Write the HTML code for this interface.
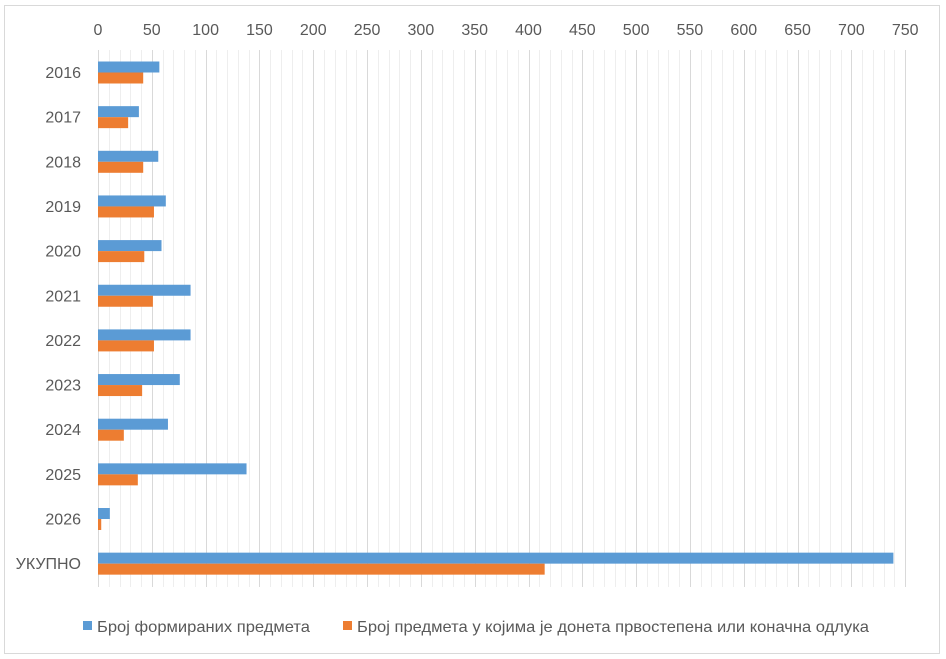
<!DOCTYPE html>
<html><head><meta charset="utf-8"><style>
html,body{margin:0;padding:0;background:#fff;}
svg{display:block;font-family:"Liberation Sans",sans-serif;}
</style></head><body>
<svg width="946" height="659" xmlns="http://www.w3.org/2000/svg">
<rect x="4.5" y="5.5" width="935" height="648" fill="#fff" stroke="#d9d9d9"/>
<g id="grid"></g>
<g id="bars"></g>
<g id="labels" font-size="16" fill="#595959"></g>
<rect x="83" y="621" width="9" height="9" fill="#5b9bd5"/>
<text x="97" y="632" font-size="16" fill="#595959" textLength="213" lengthAdjust="spacingAndGlyphs">Број формираних предмета</text>
<rect x="343" y="621" width="9" height="9" fill="#ed7d31"/>
<text x="357" y="632" font-size="16" fill="#595959" textLength="512" lengthAdjust="spacingAndGlyphs">Број предмета у којима је донета првостепена или коначна одлука</text>
<script>
var ns="http://www.w3.org/2000/svg",x0=98,k=1.0763,g=document.getElementById('grid'),b=document.getElementById('bars'),l=document.getElementById('labels');
function el(p,t,a,txt){var e=document.createElementNS(ns,t);for(var i in a)e.setAttribute(i,a[i]);if(txt)e.textContent=txt;p.appendChild(e);}
for(var v=0;v<=750;v+=10){var x=Math.round(x0+v*k)+0.5,maj=v%50==0;el(g,'line',{x1:x,x2:x,y1:50,y2:587,stroke:maj?'#d9d9d9':'#eeeeee','stroke-width':1});
if(maj)el(l,'text',{x:x0+v*k,y:35,'text-anchor':'middle'},String(v));}
var cats=['2016','2017','2018','2019','2020','2021','2022','2023','2024','2025','2026','УКУПНО'];
var a=[57,38,56,63,59,86,86,76,65,138,11,739],o=[42,28,42,52,43,51,52,41,24,37,3,415];
for(var i=0;i<12;i++){var c=72+i*44.65;
el(b,'rect',{x:x0,y:c-10.5,width:a[i]*k,height:11,fill:'#5b9bd5'});
el(b,'rect',{x:x0,y:c+0.5,width:o[i]*k,height:11,fill:'#ed7d31'});
el(l,'text',{x:81,y:c+6,'text-anchor':'end'},cats[i]);}
</script>
</svg>
</body></html>
